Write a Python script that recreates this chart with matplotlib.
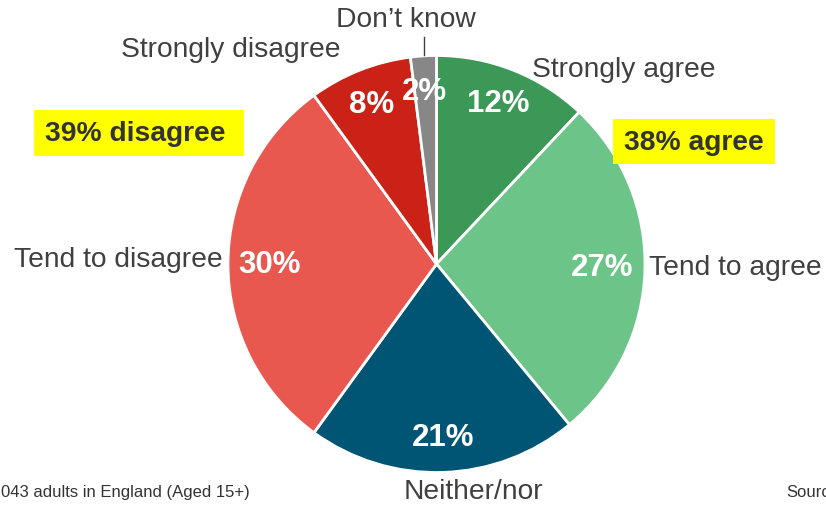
import matplotlib
matplotlib.use("Agg")
import matplotlib.pyplot as plt

plt.rcParams['font.family'] = ['Liberation Sans', 'DejaVu Sans']

categories = ["Strongly agree", "Tend to agree", "Neither/nor", "Tend to disagree", "Strongly disagree", "Don\u2019t know"]
values = [12, 27, 21, 30, 8, 2]
colors = ["#3b9857", "#6cc488", "#005574", "#e8584e", "#cb2217", "#878787"]
agree_label = "38% agree"
disagree_label = "39% disagree"
footer_left = "043 adults in England (Aged 15+)"
footer_right = "Source"

W, H = 826, 506
fig = plt.figure(figsize=(W / 100, H / 100), dpi=100)
ax = fig.add_axes([0, 0, 1, 1])

cx, cy, r = 436.5, H - 265, 208.5
wedges, _ = ax.pie(values, colors=colors, startangle=90, counterclock=False,
                   center=(cx, cy), radius=r, frame=True,
                   wedgeprops=dict(edgecolor='white', linewidth=2))
ax.set_xlim(0, W)
ax.set_ylim(0, H)
ax.set_aspect('equal')
ax.axis('off')

def Y(y):
    return H - y

# percent labels
pct_pos = [(498, 104), (602, 268), (443, 438), (270, 265), (372, 105), (424, 92)]
for v, (x, y) in zip(values, pct_pos):
    ax.text(x, Y(y), f"{v}%", color='white', fontsize=22.5, fontweight='bold',
            ha='center', va='center')

lab_color = '#404040'
fs = 20.3
ax.text(406, Y(20), categories[5], ha='center', va='center', fontsize=fs, color=lab_color)
ax.plot([424, 424], [Y(38), Y(56)], color=lab_color, lw=1)
ax.text(231, Y(50), categories[4], ha='center', va='center', fontsize=fs, color=lab_color)
ax.text(532, Y(70), categories[0], ha='left', va='center', fontsize=fs, color=lab_color)
ax.text(649, Y(268), categories[1], ha='left', va='center', fontsize=fs, color=lab_color)
ax.text(473, Y(492), categories[2], ha='center', va='center', fontsize=fs, color=lab_color)
ax.text(223, Y(260), categories[3], ha='right', va='center', fontsize=fs, color=lab_color)

# yellow boxes
ax.add_patch(plt.Rectangle((34, Y(157)), 210, 46, facecolor='#ffff00', edgecolor='none'))
ax.text(135, Y(134), disagree_label, ha='center', va='center', fontsize=20.3,
        fontweight='bold', color='#333333')
ax.add_patch(plt.Rectangle((613, Y(165)), 162, 45, facecolor='#ffff00', edgecolor='none'))
ax.text(694, Y(143), agree_label, ha='center', va='center', fontsize=20.3,
        fontweight='bold', color='#333333')

# footer
ax.text(1, Y(493), footer_left, ha='left', va='center', fontsize=12, color='#333333')
ax.text(786, Y(493), footer_right, ha='left', va='center', fontsize=12, color='#333333')

fig.savefig("out.png", dpi=100)
